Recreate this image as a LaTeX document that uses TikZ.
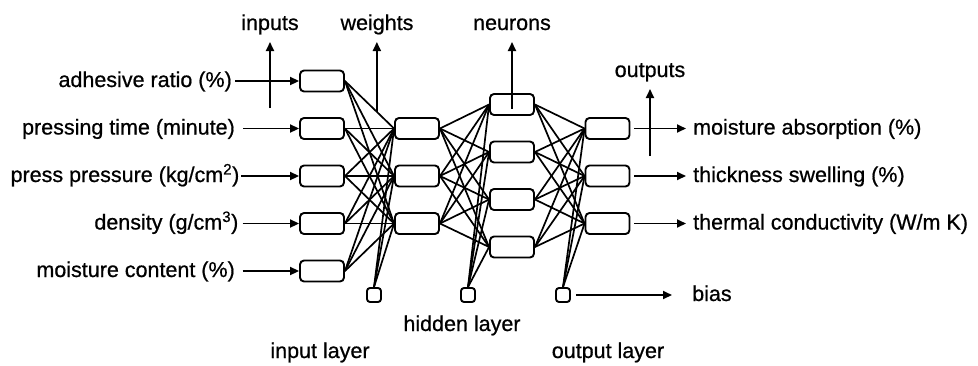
\documentclass[tikz,border=0pt]{standalone}
\usepackage{fontspec}
\setmainfont[FakeBold=0.7]{Liberation Sans}
\usetikzlibrary{arrows.meta,calc}
\begin{document}
\begin{tikzpicture}[x=1pt,y=-1pt,
  every node/.style={font=\fontsize{21.5}{24}\selectfont},
  unit/.style={draw,line width=1.9pt,rounded corners=4pt,minimum width=44pt,minimum height=21pt,inner sep=0pt},
  biasunit/.style={draw,line width=1.9pt,rounded corners=3pt,minimum size=14pt,inner sep=0pt},
  lbl/.style={inner sep=0pt},
  link/.style={line width=1.7pt},
  arr/.style={line width=1.9pt,-{Triangle[length=9pt,width=8pt]}}]
\useasboundingbox (0,0) rectangle (978,365);

% units of the three layers
\foreach \n/\y in {1/81,2/128.5,3/176,4/223.5,5/271}
  \node[unit] (i\n) at (322,\y) {};
\foreach \n/\y in {1/128.5,2/176,3/223.5}
  \node[unit] (h\n) at (417,\y) {};
\foreach \n/\y in {1/104.5,2/152,3/199.5,4/247}
  \node[unit] (n\n) at (512,\y) {};
\foreach \n/\y in {1/128.5,2/176,3/223.5}
  \node[unit] (o\n) at (607.5,\y) {};
% bias units
\node[biasunit] (b1) at (374,295) {};
\node[biasunit] (b2) at (468,295) {};
\node[biasunit] (b3) at (563,295) {};

% weighted connections
\foreach \a in {1,...,5}
  \foreach \b in {1,2,3}
    \draw[link] (i\a.east) -- (h\b.west);
\foreach \a in {1,2,3}
  \foreach \b in {1,...,4}
    \draw[link] (h\a.east) -- (n\b.west);
\foreach \a in {1,...,4}
  \foreach \b in {1,2,3}
    \draw[link] (n\a.east) -- (o\b.west);
\foreach \b in {1,2,3} {
  \draw[link] (b1.north) -- (h\b.west);
  \draw[link] (b3.north) -- (o\b.west);
}
\foreach \b in {1,...,4}
  \draw[link] (b2.north) -- (n\b.west);

% input variables
\node[lbl,anchor=base east] (t1) at (232,87) {adhesive ratio (\%)};
\node[lbl,anchor=base east] (t2) at (235,134.5) {pressing time (minute)};
\node[lbl,anchor=base east] (t3) at (239.5,182) {press pressure (kg/cm\textsuperscript{2})};
\node[lbl,anchor=base east] (t4) at (238.5,229.5) {density (g/cm\textsuperscript{3})};
\node[lbl,anchor=base east] (t5) at (235,277) {moisture content (\%)};
\coordinate (s1) at (235,81);
\coordinate (s2) at (243,128.5);
\coordinate (s3) at (241,176);
\coordinate (s4) at (242.5,223.5);
\coordinate (s5) at (242.5,271);
\foreach \n in {1,...,5}
  \draw[arr] (s\n) -- (i\n.west);

% output variables
\foreach \n/\y in {1/128.5,2/176,3/223.5} {
  \coordinate (e\n) at (686,\y);
  \draw[arr,shorten <=4pt] (o\n.east) -- (e\n);
}
\node[lbl,anchor=base west] (r1) at (693,134.5) {moisture absorption (\%)};
\node[lbl,anchor=base west] (r2) at (693,182) {thickness swelling (\%)};
\node[lbl,anchor=base west] (r3) at (693,229.5) {thermal conductivity (W/m K)};

% bias
\coordinate (be) at (672,295);
\draw[arr,shorten <=5pt] (b3.east) -- (be);
\node[lbl,anchor=base west] (bl) at (692,301) {bias};

% callouts
\node[lbl,anchor=base] (c1) at (270,30) {inputs};
\node[lbl,anchor=base] (c2) at (377,30) {weights};
\node[lbl,anchor=base] (c3) at (512,30) {neurons};
\node[lbl,anchor=base] (c4) at (650,77) {outputs};
\coordinate (p1) at (270,108);
\coordinate (q1) at (270,42);
\draw[arr] (p1) -- (q1);
\coordinate (p2) at ($(i1.east)!0.65!(h1.west)$);
\draw[arr] (p2) -- (p2 |- q1);
\coordinate (p3) at ($(n1.center)+(0,4)$);
\draw[arr] (p3) -- (p3 |- q1);
\coordinate (p4) at (650,156);
\coordinate (q4) at (650,89);
\draw[arr] (p4) -- (q4);

% layer names
\node[lbl,anchor=base] (l1) at (320,358) {input layer};
\node[lbl,anchor=base] (l2) at (462,331) {hidden layer};
\node[lbl,anchor=base] (l3) at (608,358) {output layer};
\end{tikzpicture}
\end{document}
